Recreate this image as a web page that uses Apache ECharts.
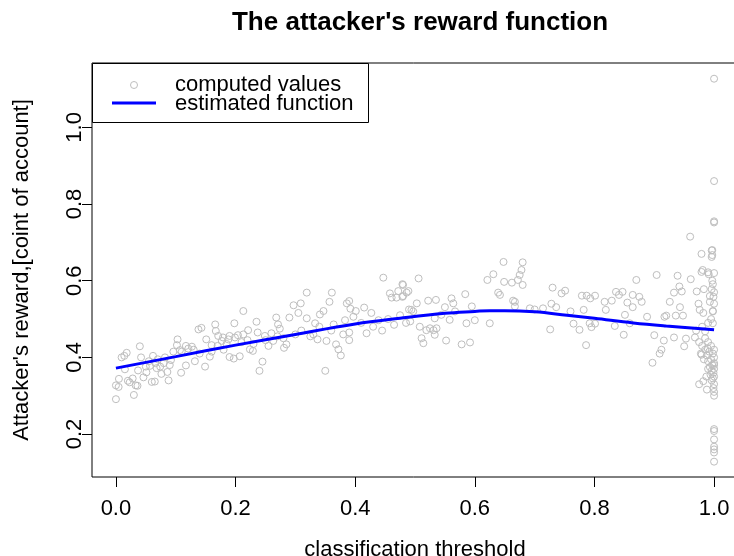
<!DOCTYPE html>
<html>
<head>
<meta charset="utf-8">
<script src="https://cdn.jsdelivr.net/npm/echarts@6/dist/echarts.min.js"></script>
<style>html,body{margin:0;padding:0;background:#fff;}#c{width:734px;height:556px;}</style>
</head>
<body>
<div id="c"></div>
<script>
// computed values (threshold, reward)
var ptsX = [
0.0,0.0,0.0045,0.005,0.0095,0.014,0.018,0.015,0.02,0.023,0.028,0.033,0.03,0.036,0.04,0.042,0.037,0.046,0.051,0.05,
0.057,0.06,0.065,0.062,0.068,0.074,0.076,0.082,0.086,0.088,0.092,0.096,0.103,0.102,0.107,0.109,0.117,0.117,0.121,0.127,
0.132,0.138,0.143,0.149,0.151,0.157,0.16,0.166,0.167,0.171,0.177,0.179,0.188,0.19,0.19,0.197,0.198,0.199,0.207,0.204,
0.213,0.213,0.221,0.224,0.229,0.235,0.237,0.24,0.245,0.249,0.26,0.263,0.268,0.271,0.274,0.281,0.285,0.29,0.297,0.305,
0.309,0.319,0.319,0.325,0.333,0.337,0.341,0.347,0.35,0.352,0.357,0.361,0.364,0.368,0.372,0.376,0.383,0.386,0.39,0.392,
0.39,0.39,0.397,0.401,0.419,0.427,0.439,0.447,0.458,0.461,0.469,0.472,0.479,0.48,0.489,0.49,
0.11,0.13,0.14,0.16,0.17,0.18,0.185,0.21,0.22,0.23,0.25,0.255,0.27,0.28,0.3,0.31,0.33,0.34,0.36,0.38,
0.055,0.066,0.07,0.08,0.09,0.41,0.415,0.43,0.445,0.455,0.465,0.475,0.485,
0.48,0.486,0.479,0.494,0.497,0.492,0.506,0.503,0.508,0.511,0.514,0.519,0.522,0.525,0.531,0.533,0.535,0.536,0.533,0.544,
0.55,0.552,0.558,0.561,0.564,0.567,0.578,0.584,0.586,0.592,0.595,0.6,0.621,0.625,0.631,0.639,0.642,0.648,0.649,0.662,
0.664,0.667,0.667,0.672,0.675,0.678,0.68,0.68,0.692,0.7,0.714,0.726,0.728,0.73,0.736,0.745,0.751,0.76,0.765,0.775,
0.779,0.782,0.786,0.787,0.792,0.793,0.795,0.801,0.801,0.817,0.819,0.829,0.834,0.836,0.841,0.847,0.849,0.851,0.855,0.859,
0.864,0.864,0.87,0.875,0.879,0.888,0.897,0.9,0.904,0.909,0.912,0.916,0.917,0.92,0.926,0.933,0.933,0.936,0.939,0.942,
0.943,0.946,0.948,0.95,0.953,0.96,0.961,0.968,0.971,0.974,0.976,0.979,0.979,0.983,0.982,0.985,0.982,0.979,0.988,0.991,
0.989,0.993,0.996,0.996,0.998,0.998,0.998,0.996,0.999,
0.985,0.99,0.995,1.0,0.992,0.998,0.988,1.0,0.995,0.99,1.0,0.997,0.993,1.0,0.996,0.999,0.994,1.0,0.998,0.996,
1.0,0.999,1.0,1.0,0.985,0.98,0.978,0.983,0.975,0.97,0.98,0.99,0.995,0.998,1.0,0.993,1.0,0.997,1.0,0.99,
0.987,0.975,1.0,
1.0,1.0,1.0,1.0,0.997,0.997,0.981,0.99,
1.0,1.0,1.0,1.0,1.0,1.0,1.0
];
var ptsY = [
0.291,0.327,0.323,0.344,0.40,0.404,0.412,0.369,0.339,0.335,0.345,0.327,0.302,0.326,0.429,0.40,0.366,0.348,0.361,0.376,
0.378,0.336,0.337,0.404,0.372,0.376,0.357,0.40,0.362,0.34,0.393,0.415,0.447,0.432,0.419,0.36,0.379,0.43,0.423,0.428,
0.39,0.473,0.477,0.376,0.447,0.402,0.432,0.486,0.469,0.456,0.443,0.452,0.447,0.456,0.401,0.397,0.489,0.452,0.403,0.458,
0.521,0.46,0.471,0.421,0.417,0.493,0.465,0.365,0.389,0.456,0.463,0.443,0.504,0.486,0.475,0.425,0.434,0.504,0.536,0.516,
0.541,0.569,0.502,0.455,0.489,0.447,0.512,0.521,0.365,0.443,0.545,0.569,0.486,0.434,0.421,0.405,0.497,0.541,0.547,0.527,
0.465,0.445,0.506,0.521,0.463,0.516,0.497,0.608,0.567,0.556,0.556,0.573,0.591,0.56,0.573,0.525,
0.415,0.42,0.41,0.415,0.43,0.42,0.435,0.44,0.445,0.435,0.445,0.43,0.455,0.45,0.46,0.47,0.46,0.48,0.47,0.46,
0.39,0.385,0.395,0.385,0.38,0.49,0.53,0.48,0.47,0.5,0.485,0.51,0.49,
0.589,0.569,0.558,0.524,0.52,0.494,0.606,0.541,0.48,0.45,0.437,0.471,0.548,0.476,0.471,0.502,0.55,0.476,0.459,0.511,
0.531,0.444,0.498,0.554,0.541,0.52,0.434,0.565,0.489,0.439,0.533,0.497,0.602,0.489,0.617,0.569,0.563,0.649,0.597,0.595,
0.548,0.545,0.533,0.602,0.615,0.628,0.648,0.589,0.528,0.525,0.528,0.473,0.54,0.582,0.531,0.567,0.574,0.52,0.488,0.472,
0.561,0.524,0.432,0.561,0.489,0.554,0.479,0.561,0.488,0.545,0.524,0.548,0.482,0.571,0.563,0.571,0.459,0.511,0.543,0.489,
0.563,0.531,0.602,0.558,0.545,0.506,0.386,0.458,0.615,0.41,0.42,0.444,0.506,0.509,0.545,0.452,0.569,0.509,0.613,0.585,
0.531,0.572,0.509,0.429,0.449,0.715,0.604,0.452,0.572,0.54,0.524,0.67,0.623,0.578,0.516,0.468,0.338,0.407,0.316,0.617,
0.424,0.545,0.679,0.662,0.591,0.521,0.489,0.578,0.558,
0.45,0.44,0.43,0.42,0.415,0.41,0.405,0.40,0.395,0.39,0.385,0.38,0.375,0.37,0.365,0.36,0.355,0.35,0.345,0.34,
0.33,0.32,0.31,0.30,0.42,0.43,0.41,0.395,0.44,0.47,0.48,0.49,0.5,0.52,0.54,0.56,0.57,0.6,0.62,0.37,
0.35,0.33,0.38,
1.127,0.86,0.755,0.752,0.68,0.667,0.628,0.622,
0.213,0.208,0.186,0.167,0.16,0.152,0.128
];
// estimated function
var fitX = [0,0.1,0.2,0.3,0.4,0.475,0.55,0.6,0.625,0.65,0.7,0.754,0.8,0.865,0.92,1.0];
var fitY = [0.372,0.402,0.432,0.46,0.487,0.502,0.515,0.52,0.522,0.522,0.519,0.51,0.502,0.49,0.482,0.472];
var xTicks = [0,0.2,0.4,0.6,0.8,1.0];
var yTicks = [0.2,0.4,0.6,0.8,1.0];
var legendLabels = ['computed values','estimated function'];

var scatterData = ptsX.map(function(x,i){return [x, ptsY[i]];});
var lineData = fitX.map(function(x,i){return [x, fitY[i]];});
var FONT = 'Liberation Sans, Arial, Helvetica, sans-serif';

var chart = echarts.init(document.getElementById('c'), null, {renderer:'canvas'});
chart.setOption({
  backgroundColor:'#ffffff',
  animation:false,
  title:{
    text:"The attacker's reward function",
    left:415, top:5, textAlign:'center',
    textStyle:{fontFamily:FONT,fontWeight:'bold',fontSize:26,color:'#000'}
  },
  grid:{left:92, top:63, width:646, height:414, show:true, borderColor:'#000', borderWidth:1,
        backgroundColor:'transparent', containLabel:false, outerBoundsMode:'none'},
  xAxis:{
    type:'value', min:-0.04, max:1.04,
    name:'classification threshold', nameLocation:'middle', nameGap:62,
    nameTextStyle:{fontFamily:FONT,fontSize:22,color:'#000'},
    axisLine:{show:false, onZero:false},
    splitLine:{show:false},
    axisTick:{show:true, inside:false, length:10, customValues:xTicks, lineStyle:{color:'#000',width:1}},
    axisLabel:{show:true, customValues:xTicks, margin:21, fontFamily:FONT, fontSize:22, color:'#000',
      formatter:function(v){return v.toFixed(1);}}
  },
  yAxis:{
    type:'value', min:0.088, max:1.168,
    name:"Attacker's reward,[coint of account]", nameLocation:'middle', nameGap:59, nameRotate:90,
    nameTextStyle:{fontFamily:FONT,fontSize:22,color:'#000'},
    axisLine:{show:false, onZero:false},
    splitLine:{show:false},
    axisTick:{show:true, inside:false, length:10, customValues:yTicks, lineStyle:{color:'#000',width:1}},
    axisLabel:{show:true, customValues:yTicks, rotate:90, margin:6, fontFamily:FONT, fontSize:22, color:'#000',
      formatter:function(v){return v.toFixed(1);}}
  },
  series:[
    {type:'scatter', name:legendLabels[0], data:scatterData, symbol:'circle', symbolSize:7,
     itemStyle:{color:'rgba(0,0,0,0)', borderColor:'#bebebe', borderWidth:1, opacity:1}, z:2},
    {type:'line', name:legendLabels[1], data:lineData, smooth:0.4, symbol:'none',
     lineStyle:{color:'#0000ff', width:3}, z:3}
  ],
  graphic:[
    {type:'rect', shape:{x:92.5, y:63.5, width:276, height:59}, style:{fill:'#fff', stroke:'#000', lineWidth:1}, z:10},
    {type:'circle', shape:{cx:134, cy:85, r:3.5}, style:{fill:'#fff', stroke:'#bebebe', lineWidth:1}, z:11},
    {type:'line', shape:{x1:112, y1:103, x2:156, y2:103}, style:{stroke:'#0000ff', lineWidth:3}, z:11},
    {type:'text', x:175, y:85, style:{text:legendLabels[0], font:'22px '+FONT, fill:'#000', verticalAlign:'middle'}, z:11},
    {type:'text', x:175, y:104, style:{text:legendLabels[1], font:'22px '+FONT, fill:'#000', verticalAlign:'middle'}, z:11}
  ]
});
</script>
</body>
</html>
